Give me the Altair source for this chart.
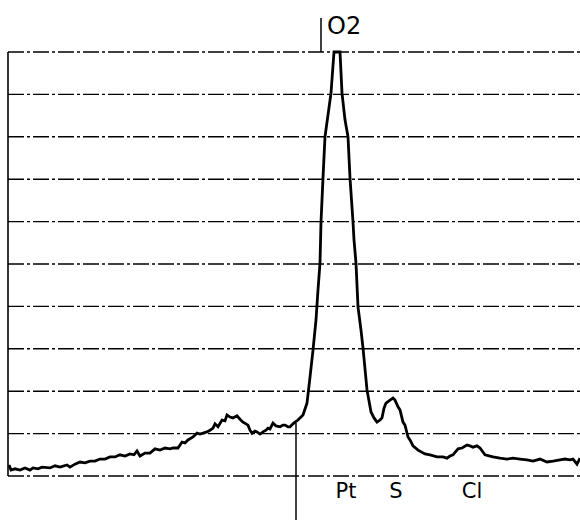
import altair as alt
import pandas as pd

# Spectrum trace (channel, intensity in grid divisions)
channel = [1, 3, 7, 12, 17, 22, 25, 30, 34, 42, 47, 52, 59, 62, 67, 72, 77, 82, 87, 92,
           97, 102, 107, 112, 117, 122, 126, 129, 132, 137, 142, 147, 152, 157, 162, 165, 170,
           174, 177, 180, 185, 189, 192, 195, 199, 202, 205, 207, 210, 214, 217, 219, 222, 225,
           229, 232, 235, 238, 240, 242, 244, 247, 249, 252, 255, 258, 260, 262, 265, 268, 272,
           275, 277, 280, 282, 285, 287, 290, 292, 295, 299, 302, 305, 308, 310, 312, 313, 315,
           317, 323, 326, 332, 334, 337, 340, 342, 345, 346, 348, 350, 353, 355, 359, 363, 366,
           369, 372, 374, 376, 378, 382, 385, 387, 390, 392, 395, 397, 400, 402, 405, 410, 417,
           422, 429, 435, 439, 442, 445, 450, 454, 459, 462, 465, 469, 472, 477, 482, 485, 492,
           499, 505, 512, 519, 525, 532, 539, 545, 552, 557, 562, 565, 569, 572]
intensity = [0.26, 0.14, 0.17, 0.14, 0.19, 0.14, 0.19, 0.17, 0.21, 0.19, 0.24, 0.21, 0.26, 0.21,
             0.28, 0.33, 0.31, 0.35, 0.35, 0.40, 0.40, 0.45, 0.45, 0.50, 0.47, 0.52, 0.50, 0.59,
             0.47, 0.54, 0.54, 0.64, 0.61, 0.66, 0.64, 0.66, 0.66, 0.80, 0.78, 0.85, 0.92, 1.01,
             0.99, 1.01, 1.04, 1.08, 1.13, 1.23, 1.16, 1.32, 1.30, 1.44, 1.39, 1.37, 1.42, 1.34,
             1.27, 1.23, 1.20, 1.08, 1.01, 1.06, 1.04, 0.99, 1.04, 1.08, 1.13, 1.11, 1.25, 1.18,
             1.16, 1.20, 1.20, 1.16, 1.16, 1.23, 1.27, 1.32, 1.37, 1.44, 1.72, 2.33, 2.97, 3.68,
             4.39, 5.02, 5.99, 7.03, 8.00, 9.03, 10.0, 10.0, 9.03, 8.40, 8.00, 7.03, 5.99, 5.57,
             5.02, 3.99, 3.44, 3.02, 2.03, 1.51, 1.37, 1.27, 1.32, 1.37, 1.60, 1.72, 1.79, 1.84,
             1.79, 1.63, 1.56, 1.27, 1.20, 0.92, 0.85, 0.71, 0.61, 0.52, 0.50, 0.45, 0.45, 0.42,
             0.47, 0.50, 0.64, 0.66, 0.73, 0.71, 0.68, 0.71, 0.66, 0.50, 0.47, 0.45, 0.42, 0.40,
             0.42, 0.40, 0.38, 0.35, 0.40, 0.33, 0.35, 0.38, 0.40, 0.38, 0.40, 0.28, 0.42]

grid_levels = [0, 1, 2, 3, 4, 5, 6, 7, 8, 9, 10]
x_range = [0, 572]
y_range = [0, 10]

# Peak labels
label_text = ["Pt", "S", "Cl"]
label_x = [338, 388, 464]
label_y = [-0.52, -0.52, -0.52]

# Marker lines (x, y-start, y-end)
marker_x = [288, 313]
marker_y1 = [1.25, 10.0]
marker_y2 = [-1.04, 10.8]

top_text = ["O2"]
top_x = [319]
top_y = [10.42]

xs = alt.Scale(domain=x_range, nice=False, zero=False)
ys = alt.Scale(domain=y_range, nice=False, zero=False)

spec = pd.DataFrame({"c": channel, "v": intensity})
grid = pd.DataFrame({"g": grid_levels, "x0": x_range[0], "x1": x_range[1]})
axisline = pd.DataFrame({"x": [x_range[0]], "y0": [y_range[0]], "y1": [y_range[1]]})
labels = pd.DataFrame({"t": label_text, "x": label_x, "y": label_y})
markers = pd.DataFrame({"x": marker_x, "y1": marker_y1, "y2": marker_y2})
topl = pd.DataFrame({"t": top_text, "x": top_x, "y": top_y})

grid_layer = alt.Chart(grid).mark_rule(
    color="black", strokeWidth=1.4, strokeDash=[16, 3, 3, 3]
).encode(
    y=alt.Y("g:Q", scale=ys, axis=None),
    x=alt.X("x0:Q", scale=xs, axis=None),
    x2="x1:Q",
)

left_axis = alt.Chart(axisline).mark_rule(color="black", strokeWidth=1.6).encode(
    x=alt.X("x:Q", scale=xs, axis=None),
    y=alt.Y("y0:Q", scale=ys, axis=None),
    y2="y1:Q",
)

line = alt.Chart(spec).mark_line(color="black", strokeWidth=2.8).encode(
    x=alt.X("c:Q", scale=xs, axis=None),
    y=alt.Y("v:Q", scale=ys, axis=None),
)

marker_layer = alt.Chart(markers).mark_rule(color="black", strokeWidth=1.5).encode(
    x=alt.X("x:Q", scale=xs, axis=None),
    y=alt.Y("y1:Q", scale=ys, axis=None),
    y2="y2:Q",
)

label_layer = alt.Chart(labels).mark_text(
    font="DejaVu Sans", fontSize=21, align="center", baseline="alphabetic", color="black"
).encode(
    x=alt.X("x:Q", scale=xs, axis=None),
    y=alt.Y("y:Q", scale=ys, axis=None),
    text="t:N",
)

top_layer = alt.Chart(topl).mark_text(
    font="DejaVu Sans", fontSize=24, align="left", baseline="alphabetic", color="black"
).encode(
    x=alt.X("x:Q", scale=xs, axis=None),
    y=alt.Y("y:Q", scale=ys, axis=None),
    text="t:N",
)

chart = alt.layer(
    grid_layer, left_axis, line, marker_layer, label_layer, top_layer
).properties(
    width=572,
    height=424,
    padding={"left": 8, "top": 52, "right": 0, "bottom": 55},
    autosize=alt.AutoSizeParams(type="none"),
    background="white",
).configure_view(stroke=None)

chart.save("out.html", embed_options={"renderer": "svg", "actions": False})
